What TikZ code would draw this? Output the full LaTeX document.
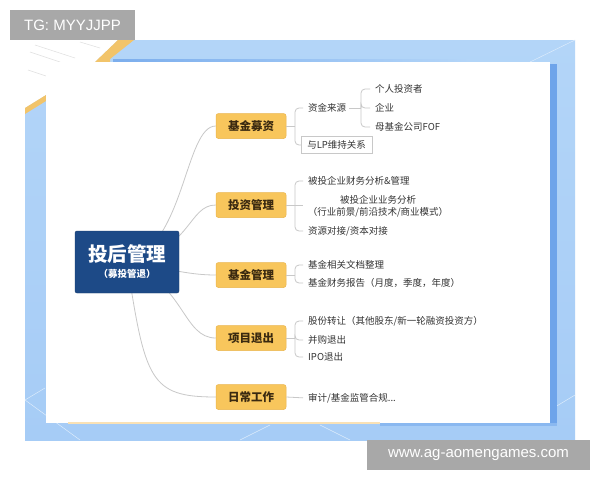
\documentclass[tikz,border=0pt]{standalone}
\usepackage{fontspec}
\setmainfont{Noto Sans CJK SC}
\newfontfamily\wmfont{Liberation Sans}
\usetikzlibrary{calc}
\pgfdeclarelayer{bg}
\pgfdeclarelayer{mid}
\pgfsetlayers{bg,mid,main}
\definecolor{panelblue}{HTML}{B3D5F8}
\definecolor{panelblue2}{HTML}{A6CCF6}
\definecolor{darkstripe}{HTML}{6EA4EA}
\definecolor{stripeor}{HTML}{F2C46A}
\definecolor{catfill}{HTML}{F8C65C}
\definecolor{catdraw}{HTML}{EAB54C}
\definecolor{cattext}{HTML}{3A2910}
\definecolor{mainblue}{HTML}{1D4A87}
\definecolor{subtext}{HTML}{333333}
\definecolor{connc}{HTML}{C8C8C8}
\definecolor{wmgray}{HTML}{A8A8A8}
\tikzset{
  catbox/.style={draw=catdraw, line width=0.5pt, fill=catfill, rounded corners=2.5pt,
    minimum width=70pt, minimum height=25pt, inner sep=0pt,
    font=\fontsize{11.5}{13}\selectfont\bfseries, text=cattext},
  subitem/.style={anchor=west, inner sep=2pt, font=\fontsize{9.5}{12}\selectfont, text=subtext},
  conn/.style={draw=connc, line width=0.8pt},
  brk/.style={conn, rounded corners=4pt, shorten >=3pt},
  faint/.style={draw=white!55!panelblue, line width=0.5pt},
  wmbox/.style={fill=wmgray, text=white, inner sep=0pt, font=\wmfont\fontsize{15}{17}\selectfont}
}
\begin{document}
\begin{tikzpicture}[x=1pt,y=-1pt]
\useasboundingbox (0,0) rectangle (600,480);
\begin{pgfonlayer}{bg}
  \fill[white] (0,0) rectangle (600,480);
  % blue panel
  \shade[top color=panelblue, bottom color=panelblue2] (25,40) rectangle (575,440);
  % faint panel lines
  \draw[faint] (25,400) -- (45,388);
  \draw[faint] (25,400) -- (80,440);
  \draw[faint] (530,62) -- (575,40);
  \draw[faint] (240,440) -- (270,425);
  \draw[faint] (320,425) -- (350,440);
  \draw[faint] (550,410) -- (575,395);
  % dark stripes (shadow)
  \fill[darkstripe] (550,64) rectangle (557,426);
  \fill[darkstripe!60!panelblue] (380,423) rectangle (557,426);
  \shade[left color=darkstripe!80!panelblue, right color=panelblue] (113,59) rectangle (470,62);
  % white top-left corner paper
  \fill[white] (25,40) -- (118,40) -- (95,62) -- (46,62) -- (46,95) -- (25,108) -- cycle;
  \fill[stripeor] (95,62) -- (118,40) -- (134,40) -- (110,59) -- (110,62) -- cycle;
  \fill[stripeor] (25,108) -- (46,95) -- (46,101) -- (25,114) -- cycle;
  \draw[gray!25, line width=0.5pt] (35,45) -- (75,58);
  \draw[gray!25, line width=0.5pt] (30,52) -- (60,62);
  \draw[gray!25, line width=0.5pt] (28,70) -- (46,76);
  \draw[gray!25, line width=0.5pt] (80,42) -- (100,48);
  % white card
  \fill[white] (46,62) rectangle (550,423);
  \fill[stripeor!50!white] (68,422) rectangle (380,424);
\end{pgfonlayer}

% central node
\node[fill=mainblue, draw=mainblue!80!black, rounded corners=2pt, minimum width=104pt,
      minimum height=62pt, inner sep=0pt, align=center, text=white] (m) at (127,262)
  {{\fontsize{19.5}{22}\selectfont\bfseries 投后管理}\\[4pt]{\fontsize{9.5}{11}\selectfont\bfseries （募投管退）}};

% categories
\node[catbox] (c1) at (251,126) {基金募资};
\node[catbox] (c2) at (251,205) {投资管理};
\node[catbox] (c3) at (251,275) {基金管理};
\node[catbox] (c4) at (251,338) {项目退出};
\node[catbox] (c5) at (251,397) {日常工作};

% sub items
\node[subitem] (s11) at (306,108) {资金来源};
\node[subitem, draw=connc, line width=0.6pt, inner xsep=6pt, minimum height=17pt] (s12) at (301,145) {与LP维持关系};
\node[subitem] (s111) at (373,89) {个人投资者};
\node[subitem] (s112) at (373,108) {企业};
\node[subitem] (s113) at (373,127) {母基金公司FOF};

\node[subitem] (s21) at (306,181) {被投企业财务分析\&管理};
\node[subitem, anchor=center, align=center, font=\fontsize{9.5}{12}\selectfont] (s22) at (378,206)
  {被投企业业务分析\\（行业前景/前沿技术/商业模式）};
\node[subitem] (s23) at (306,231) {资源对接/资本对接};

\node[subitem] (s31) at (306,265) {基金相关文档整理};
\node[subitem] (s32) at (306,283) {基金财务报告（月度，季度，年度）};

\node[subitem] (s41) at (306,321) {股份转让（其他股东/新一轮融资投资方）};
\node[subitem] (s42) at (306,340) {并购退出};
\node[subitem] (s43) at (306,357) {IPO退出};

\node[subitem] (s51) at (306,398) {审计/基金监管合规...};

% branch points
\coordinate (b1) at (295,126);
\coordinate (b11) at (361,108);
\coordinate (b2) at (295,205);
\coordinate (b3) at (295,275);
\coordinate (b4) at (295,338);

\begin{pgfonlayer}{mid}
  \draw[conn] (m.center) .. controls (185,245) and (185,126) .. (c1.west);
  \draw[conn] (m.center) .. controls (192,250) and (188,205) .. (c2.west);
  \draw[conn] (m.center) .. controls (175,270) and (190,275) .. (c3.west);
  \draw[conn] (m.center) .. controls (185,285) and (183,338) .. (c4.west);
  \draw[conn] (m.center) .. controls (145,380) and (150,397) .. (c5.west);
\end{pgfonlayer}

% brackets
\draw[conn] (c1.east) -- (b1);
\draw[brk] (b1) |- (s11.west);
\draw[brk, shorten >=0pt] (b1) |- (s12.west);
\draw[conn, shorten <=1pt] (s11.east) -- (b11);
\draw[brk] (b11) |- (s111.west);
\draw[brk] (b11) |- (s112.west);
\draw[brk] (b11) |- (s113.west);

\draw[conn] (c2.east) -- (b2);
\draw[brk] (b2) |- (s21.west);
\draw[conn] (b2) -- (303,205);
\draw[brk] (b2) |- (s23.west);

\draw[conn] (c3.east) -- (b3);
\draw[brk] (b3) |- (s31.west);
\draw[brk] (b3) |- (s32.west);

\draw[conn] (c4.east) -- (b4);
\draw[brk] (b4) |- (s41.west);
\draw[brk] (b4) |- (s42.west);
\draw[brk] (b4) |- (s43.west);

\draw[conn, shorten >=3pt] (c5.east) -- (s51.west);

% watermarks
\node[wmbox, minimum width=125pt, minimum height=30pt] (w1) at (72.5,25) {TG: MYYJJPP};
\node[wmbox, minimum width=223pt, minimum height=30pt] (w2) at (478.5,455) {www.ag-aomengames.com};
\end{tikzpicture}
\end{document}
